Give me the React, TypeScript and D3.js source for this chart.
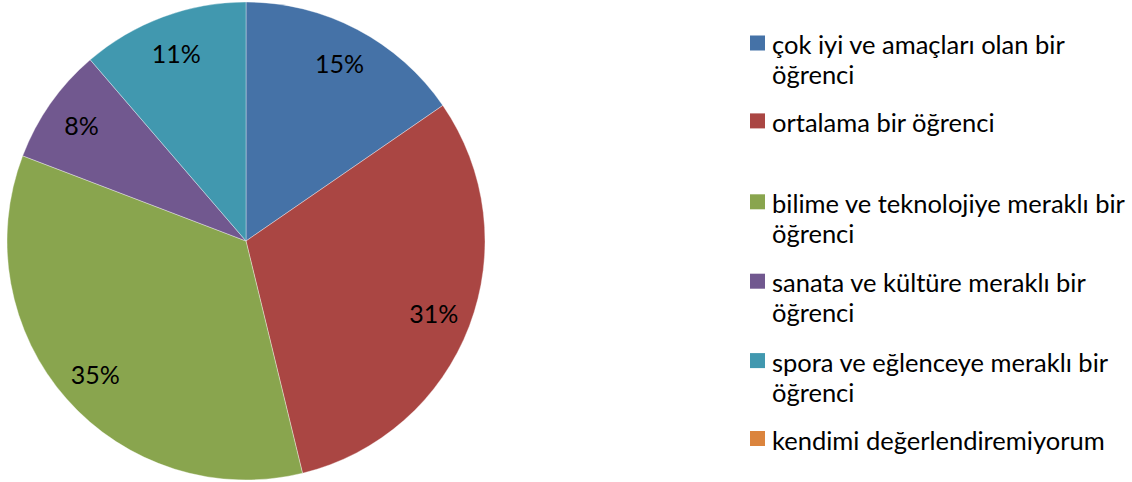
import React, { useEffect, useRef } from "react";
import * as d3 from "d3";

const categories = [
  "çok iyi ve amaçları olan bir öğrenci",
  "ortalama bir öğrenci",
  "bilime ve teknolojiye meraklı bir öğrenci",
  "sanata ve kültüre meraklı bir öğrenci",
  "spora ve eğlenceye meraklı bir öğrenci",
  "kendimi değerlendiremiyorum",
];
const percents = [15.4, 30.8, 34.6, 7.9, 11.3, 0];
const colors = ["#4572A7", "#AA4643", "#89A54E", "#71588F", "#4198AF", "#DB843D"];

const W = 1132;
const H = 482;
const FONT = "Lato, 'Open Sans', sans-serif";

export default function App() {
  const ref = useRef<SVGSVGElement>(null);

  useEffect(() => {
    const svg = d3.select(ref.current);
    svg.selectAll("*").remove();

    const cx = 246, cy = 241, R = 239, labelR = 201;
    const total = d3.sum(percents);
    const data = categories.map((c, i) => ({ c, v: percents[i], color: colors[i] }));
    const pie = d3.pie<any>().value((d) => d.v).sort(null);
    const arcs = pie(data);
    const arc = d3.arc<any>().innerRadius(0).outerRadius(R);
    const lab = d3.arc<any>().innerRadius(labelR).outerRadius(labelR);

    const g = svg.append("g").attr("transform", `translate(${cx},${cy})`);
    g.selectAll("path")
      .data(arcs.filter((a) => a.data.v > 0))
      .join("path")
      .attr("d", arc)
      .attr("fill", (d) => d.data.color)
      .attr("stroke", "rgba(255,255,255,0.45)")
      .attr("stroke-width", 0.8);

    g.selectAll("text.pct")
      .data(arcs.filter((a) => a.data.v > 0))
      .join("text")
      .attr("class", "pct")
      .attr("x", (d) => lab.centroid(d)[0])
      .attr("y", (d) => lab.centroid(d)[1])
      .attr("text-anchor", "middle")
      .attr("dominant-baseline", "central")
      .attr("font-family", FONT)
      .attr("font-size", 25)
      .attr("fill", "#000")
      .text((d) => `${Math.round((d.data.v / total) * 100)}%`);

    // legend
    const lx = 750, tx = 772, y0 = 44, step = 79.4, lineH = 30, maxW = 365;
    const lg = svg.append("g");
    data.forEach((d, i) => {
      const words = d.c.split(" ");
      const t = lg.append("text")
        .attr("font-family", FONT)
        .attr("font-size", 25.5)
        .attr("fill", "#000");
      const lines: string[] = [];
      let cur = "";
      const probe = t.append("tspan");
      words.forEach((w) => {
        const test = cur ? cur + " " + w : w;
        probe.text(test);
        if ((probe.node() as SVGTSpanElement).getComputedTextLength() > maxW && cur) {
          lines.push(cur);
          cur = w;
        } else cur = test;
      });
      lines.push(cur);
      probe.remove();
      const yc = y0 + i * step - (lines.length === 1 ? 1.5 : 0);
      lines.forEach((ln, k) => {
        t.append("tspan")
          .attr("x", tx)
          .attr("y", yc + k * lineH)
          .attr("dominant-baseline", "central")
          .text(ln);
      });
      lg.append("rect")
        .attr("x", lx)
        .attr("y", yc - 8.5)
        .attr("width", 15)
        .attr("height", 15)
        .attr("fill", d.color);
    });
  }, []);

  return (
    <svg ref={ref} width={W} height={H} style={{ position: "absolute", left: 0, top: 0, background: "#fff" }} />
  );
}
